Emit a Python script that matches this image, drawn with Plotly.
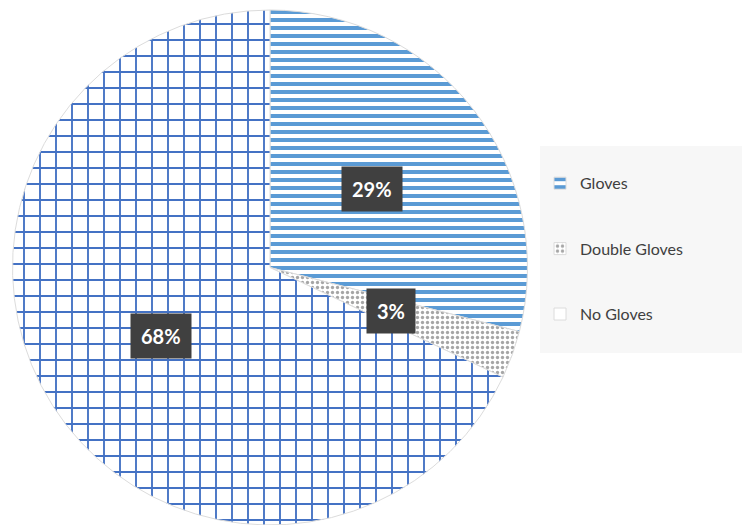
import math
import plotly.graph_objects as go

# ---- data ----
categories = ["Gloves", "Double Gloves", "No Gloves"]
values = [29, 3, 68]
label_text = ["29%", "3%", "68%"]

# ---- layout constants ----
W, H = 746, 525
CX, CY, R = 270.0, 267.5, 257.5  # pie centre / radius in px (screen coords)
LEGEND_PAD = "\u00a0" * 13  # widens the legend box toward the right edge

fig = go.Figure()
fig.add_trace(go.Pie(
    labels=["\u00a0<br>" + c + LEGEND_PAD + "<br>\u00a0" for c in categories],
    values=values,
    sort=False,
    direction="clockwise",
    rotation=0,
    textinfo="none",
    hoverinfo="label+percent",
    domain=dict(x=[(CX - R) / W, (CX + R) / W], y=[(H - CY - R) / H, (H - CY + R) / H]),
    marker=dict(
        colors=["white", "white", "white"],
        line=dict(color="#DCDCDC", width=1),
        pattern=dict(
            shape=["-", ".", "+"],
            fgcolor=["#5B9BD5", "#A6A6A6", "#4472C4"],
            bgcolor=["white", "white", "white"],
            size=[8, 5, 16],
            solidity=[0.5, 0.35, 0.22],
            fillmode="replace",
            fgopacity=1,
        ),
    ),
    showlegend=True,
))

# data labels: dark boxes at half radius on each slice's mid-angle
total = sum(values)
cum = 0.0
for v, t in zip(values, label_text):
    mid = (cum + v / 2) / total * 2 * math.pi
    cum += v
    px = CX + 0.5 * R * math.sin(mid)
    py = CY - 0.5 * R * math.cos(mid)
    fig.add_annotation(
        x=px / W, y=1 - py / H, xref="paper", yref="paper",
        text="<b>" + t + "</b>", showarrow=False,
        font=dict(family="Lato", size=20, color="white"),
        bgcolor="#404040", borderpad=10,
        xanchor="center", yanchor="middle",
    )

fig.update_layout(
    width=W, height=H,
    margin=dict(l=0, r=0, t=0, b=0, autoexpand=False),
    paper_bgcolor="white",
    plot_bgcolor="white",
    font=dict(family="Lato", size=16, color="#404040"),
    legend=dict(
        x=540 / W, xanchor="left",
        y=1 - 249 / H, yanchor="middle",
        bgcolor="#F7F7F7",
        borderwidth=0,
        font=dict(family="Lato", size=16, color="#404040"),
        itemwidth=30,
        valign="middle",
    ),
)

fig.write_html("out.html")
